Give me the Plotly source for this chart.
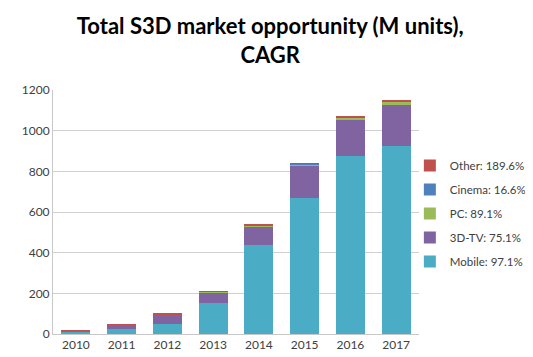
import plotly.graph_objects as go

years = ["2010", "2011", "2012", "2013", "2014", "2015", "2016", "2017"]
mobile = [10, 23, 49, 152, 438, 667, 874, 926]
tv3d = [7, 24, 48, 52, 89, 158, 178, 200]
pc = [0.5, 0.5, 1, 5, 8, 11, 13, 18]
cinema = [0.2, 0.2, 0.3, 0.3, 0.3, 0.3, 0.4, 0.5]
other = [1.5, 1, 1.5, 2, 2, 3, 3, 3]

series = [
    ("Mobile: 97.1%", mobile, "#4bacc6"),
    ("3D-TV: 75.1%", tv3d, "#8064a2"),
    ("PC: 89.1%", pc, "#9bbb59"),
    ("Cinema: 16.6%", cinema, "#4f81bd"),
    ("Other: 189.6%", other, "#c0504d"),
]

fig = go.Figure()
n = len(series)
for i, (name, vals, color) in enumerate(series):
    fig.add_trace(go.Bar(x=years, y=vals, name=name, marker_color=color,
                         marker_line_width=0, legendgroup=str(i),
                         legendrank=n - i))

fig.update_layout(
    barmode="stack",
    bargap=0.37,
    width=533, height=357,
    margin=dict(l=45, r=122, t=82, b=31, autoexpand=False),
    paper_bgcolor="white", plot_bgcolor="white",
    font=dict(family="Lato, Open Sans, sans-serif", color="#404040"),
    title=dict(text="<b>Total S3D market opportunity (M units),<br>CAGR</b>",
               x=0.492, xanchor="center", y=0.927, yanchor="middle",
               font=dict(size=22, color="#000000", family="Lato, sans-serif")),
    legend=dict(traceorder="grouped", tracegroupgap=5,
                x=0.975, xanchor="left", y=0.75, yanchor="top",
                bgcolor="rgba(0,0,0,0)",
                font=dict(size=11.5, color="#404040"),
                itemwidth=30),
    showlegend=True,
)
fig.update_yaxes(range=[0, 1200], dtick=200, showgrid=True, gridcolor="#d0d0d0",
                 gridwidth=1, showline=True, linecolor="#c8c8c8",
                 tickfont=dict(size=12, color="#404040"), ticks="", zeroline=False)
fig.update_xaxes(showline=True, linecolor="#c8c8c8", ticks="",
                 tickfont=dict(size=12, color="#404040"))

fig.write_html("out.html")
